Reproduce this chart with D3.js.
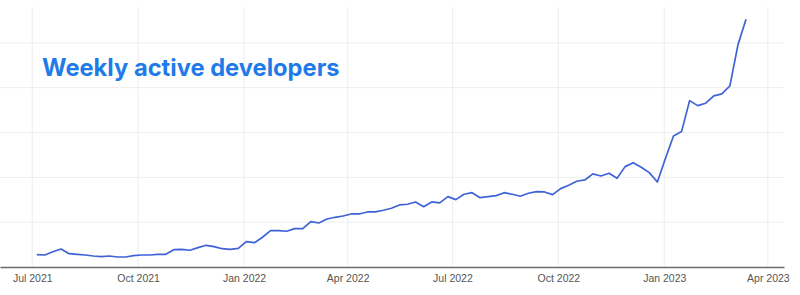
<!DOCTYPE html>
<html>
<head>
<meta charset="utf-8">
<script src="https://cdn.jsdelivr.net/npm/d3@7"></script>
<style>
  html, body { margin: 0; padding: 0; background: #fff; }
  svg { display: block; }
</style>
</head>
<body>
<svg id="chart" width="800" height="295"></svg>
<script>
// ---- data ----
const title = "Weekly active developers";
const firstWeek = "2021-07-05";           // weekly series, one value per week
const weeklyValues = [
  275, 268, 339, 402, 297, 283, 268, 246, 230, 246,
  223, 223, 252, 268, 268, 283, 283, 386, 395, 373,
  431, 484, 453, 408, 395, 417, 565, 542, 663, 810,
  810, 797, 855, 855, 1011, 982, 1071, 1109, 1138, 1183,
  1183, 1228, 1228, 1266, 1310, 1384, 1400, 1451, 1346, 1451,
  1429, 1569, 1502, 1623, 1658, 1547, 1569, 1592, 1658, 1623,
  1578, 1645, 1681, 1674, 1614, 1748, 1824, 1913, 1942, 2076,
  2031, 2092, 1980, 2239, 2328, 2225, 2105, 1897, 2422, 2924,
  3020, 3712, 3600, 3654, 3817, 3862, 4040, 4955, 5529
];
const xTickDates = ["2021-07-01","2021-10-01","2022-01-01","2022-04-01",
                    "2022-07-01","2022-10-01","2023-01-01","2023-04-01"];
const yTicks = [0, 1000, 2000, 3000, 4000, 5000];
const xDomain = ["2021-06-03", "2023-04-15"];
const yDomain = [0, 5800];

// ---- build ----
const parse = d3.utcParse("%Y-%m-%d");
const start = parse(firstWeek);
const data = weeklyValues.map((v, i) => ({ date: d3.utcDay.offset(start, 7 * i), value: v }));

const svg = d3.select("#chart");
const margin = { left: 0, right: 16, top: 7, bottom: 28 };
const W = 800, H = 295;

const x = d3.scaleUtc().domain(xDomain.map(parse)).range([margin.left, W - margin.right]);
const y = d3.scaleLinear().domain(yDomain).range([H - margin.bottom, margin.top]);

// horizontal grid
svg.append("g")
  .selectAll("line")
  .data(yTicks.slice(1))
  .join("line")
  .attr("x1", x.range()[0]).attr("x2", x.range()[1])
  .attr("y1", d => y(d)).attr("y2", d => y(d))
  .attr("stroke", "#ededed").attr("stroke-width", 1);

// vertical grid
const ticks = xTickDates.map(parse);
svg.append("g")
  .selectAll("line")
  .data(ticks)
  .join("line")
  .attr("x1", d => x(d)).attr("x2", d => x(d))
  .attr("y1", y.range()[1]).attr("y2", y.range()[0])
  .attr("stroke", "#ededed").attr("stroke-width", 1);

// x axis
const fmt = d3.utcFormat("%b %Y");
const xAxis = svg.append("g")
  .attr("transform", `translate(0,${y(0)})`)
  .call(d3.axisBottom(x).tickValues(ticks).tickFormat(fmt).tickSize(0).tickPadding(8));
xAxis.select(".domain").attr("stroke", "#6b6b6b").attr("stroke-width", 1.5);
xAxis.selectAll("text")
  .attr("font-family", "'Liberation Sans', Arial, sans-serif")
  .attr("font-size", 10.5)
  .attr("fill", "#555");

// line
const line = d3.line().x(d => x(d.date)).y(d => y(d.value));
svg.append("path")
  .datum(data)
  .attr("d", line)
  .attr("fill", "none")
  .attr("stroke", "#3f63d6")
  .attr("stroke-width", 1.7)
  .attr("stroke-linejoin", "round");

// title
svg.append("text")
  .attr("x", 42).attr("y", 76)
  .attr("font-family", "Inter, 'Liberation Sans', sans-serif")
  .attr("font-weight", 700)
  .attr("font-size", 23.7)
  .attr("fill", "#1f7be8")
  .text(title);
</script>
</body>
</html>
